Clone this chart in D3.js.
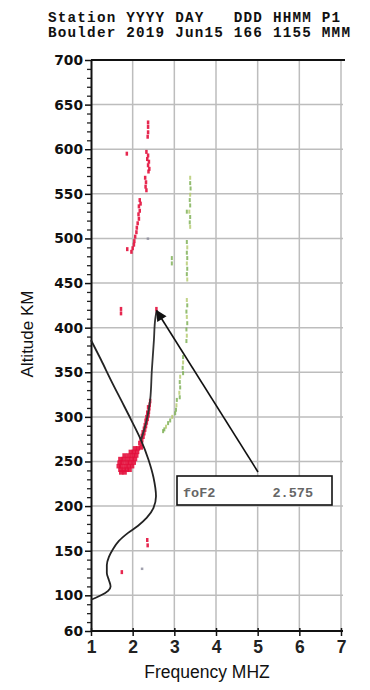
<!DOCTYPE html>
<html><head><meta charset="utf-8">
<script src="https://cdn.jsdelivr.net/npm/d3@7"></script>
<style>html,body{margin:0;padding:0;background:#fff;}svg{display:block;}</style>
</head><body>
<script>
// ---- data ----
const headerLines = ["Station YYYY DAY   DDD HHMM P1", "Boulder 2019 Jun15 166 1155 MMM"];
const xTicks = [1,2,3,4,5,6,7];
const yTicks = [60,100,150,200,250,300,350,400,450,500,550,600,650,700];
const xGrid = [2,3,4,5,6,7];
const yGrid = [100,150,200,250,300,350,400,450,500,550,600,650];

// electron density profile (black line)
const profileFreq = [1.00,1.10,1.24,1.41,1.47,1.43,1.38,1.38,1.43,1.53,1.67,1.89,2.13,2.34,2.50,2.56,2.50,2.38,2.20,1.96,1.72,1.48,1.24,1.00];
const profileAlt  = [95,97,100,105,110,117,125,134,143,152,161,170,178,187,198,211,232,252,274,297,319,341,364,386];
// branch up to foF2
const branchFreq = [2.20,2.34,2.42,2.46,2.51,2.54,2.575];
const branchAlt  = [274,297,319,352,386,409,419];

// red echoes (O trace)
const redFreq = [2.37,2.37,2.37,2.36, 1.86, 2.33,2.37,2.35,2.39,2.37,2.40,2.38, 2.30,2.32,2.31,2.33,
  2.17,2.19,2.15,2.17,2.14,2.15, 2.12,2.10,2.09,2.06,2.04,2.03,2.00,1.97, 1.87, 1.72,1.72, 2.57,2.58,
  2.42,2.41,2.40,2.39,2.38,2.36,2.34,2.32,2.30,2.28,2.26,2.23,2.21,2.19,
  2.37,2.35,2.33,2.31,2.29,2.27,2.24,2.22,2.19,2.16,
  2.12,2.05, 2.10,2.02,1.95, 2.08,2.00,1.90,1.80, 2.05,1.97,1.88,1.78,1.70,
  2.02,1.93,1.85,1.75,1.68, 1.98,1.90,1.82,1.72,1.66, 1.92,1.85,1.78,1.70, 1.80,1.72,
  2.35,2.36, 1.74];
const redAlt = [630,625,619,614, 595, 597,593,589,586,582,578,575, 568,563,558,554,
  543,539,536,531,527,522, 517,512,507,502,497,493,489,485, 488, 421,416, 421,417,
  318,314,310,306,302,298,294,290,286,282,278,274,270,266,
  311,305,300,296,291,287,283,279,275,271,
  265,265, 261,261,261, 257,257,257,257, 253,253,253,253,253,
  249,249,249,249,249, 245,245,245,245,245, 241,241,241,241, 238,238,
  162,156, 126];
// faint gray echoes
const grayFreq = [2.36, 2.22];
const grayAlt  = [500, 130];

// green echoes (X trace)
const greenFreq = [3.38,3.38,3.39,3.38,3.37,3.38,3.36,3.38,3.37,3.38, 3.30,
  3.30,3.31,3.30,3.31,3.30,3.31,3.30,3.31, 2.94,2.94,
  3.30,3.31,3.29,3.30,3.31,3.29,3.30,3.29, 3.21,3.21,3.20,3.21,
  3.14,3.13,3.14,3.12,3.13, 3.06,3.05,3.04,3.02, 2.95,2.90,2.85,2.80,2.76,2.73];
const greenAlt = [568,562,556,549,543,537,530,524,518,513, 530,
  496,490,484,478,472,466,460,454, 478,472,
  431,425,418,412,405,398,391,385, 367,361,355,349,
  345,339,333,327,322, 319,313,308,304, 300,296,293,289,286,284];

const foF2Label = "foF2";
const foF2Value = 2.575;
const foF2Alt = 419;

// ---- drawing ----
const W = 370, H = 690;
const svg = d3.select("body").append("svg").attr("width", W).attr("height", H);
svg.append("rect").attr("width", W).attr("height", H).attr("fill", "#fff");

const x = d3.scaleLinear().domain([1,7]).range([91,341]);
const y = d3.scaleLinear().domain([60,700]).range([631,60]);

// header
svg.selectAll("text.hdr").data(headerLines).enter().append("text")
  .attr("class","hdr")
  .attr("x", 48).attr("y", (d,i)=> 22 + i*15)
  .attr("font-family","'Liberation Mono', 'DejaVu Sans Mono', monospace")
  .attr("font-weight","bold").attr("font-size", 14.3)
  .attr("letter-spacing", 1.2)
  .attr("fill","#111")
  .style("white-space","pre")
  .text(d=>d);

// grid
svg.append("g").selectAll("line").data(xGrid).enter().append("line")
  .attr("x1", d=>x(d)).attr("x2", d=>x(d)).attr("y1", y(700)).attr("y2", y(60))
  .attr("stroke","#bdbdbd").attr("stroke-width",1.5);
svg.append("g").selectAll("line").data(yGrid).enter().append("line")
  .attr("x1", x(1)).attr("x2", x(7)+2).attr("y1", d=>y(d)).attr("y2", d=>y(d))
  .attr("stroke","#bdbdbd").attr("stroke-width",1.5);

// top border
svg.append("line").attr("x1", x(1)).attr("x2", x(7)+4).attr("y1", y(700)).attr("y2", y(700))
  .attr("stroke","#111").attr("stroke-width",2);

// y axis
const yMinor = d3.range(70, 700, 10).filter(v => !yTicks.includes(v));
const gyMinor = svg.append("g").attr("transform", `translate(${x(1)},0)`)
  .call(d3.axisLeft(y).tickValues(yMinor).tickFormat("").tickSize(4).tickSizeOuter(0));
gyMinor.select(".domain").remove();
gyMinor.selectAll("line").attr("stroke","#222").attr("stroke-width",1.3);
const gy = svg.append("g").attr("transform", `translate(${x(1)},0)`)
  .call(d3.axisLeft(y).tickValues(yTicks).tickFormat(d3.format("d")).tickSize(6).tickSizeOuter(0).tickPadding(2));
gy.select(".domain").attr("stroke","#111").attr("stroke-width",2);
gy.selectAll(".tick line").attr("stroke","#111").attr("stroke-width",1.5);
gy.selectAll("text").attr("font-family","'DejaVu Sans', Verdana, sans-serif")
  .attr("font-weight","bold").attr("font-size",13.8).attr("fill","#111");

// x axis
const gx = svg.append("g").attr("transform", `translate(0,${y(60)})`)
  .call(d3.axisBottom(x).tickValues(xTicks).tickFormat(d3.format("d")).tickSize(5).tickSizeOuter(0).tickPadding(5));
gx.select(".domain").attr("stroke","#111").attr("stroke-width",2).attr("d", `M${x(1)},0H${x(7)+2}`);
gx.selectAll(".tick line").attr("stroke","#111").attr("stroke-width",1.5).attr("y1",-3);
gx.selectAll("text").attr("font-family","'Liberation Sans', Arial, sans-serif")
  .attr("font-weight","bold").attr("font-size",17.5).attr("fill","#222");

// axis titles
svg.append("text").attr("transform","translate(33,334) rotate(-90)")
  .attr("text-anchor","middle").attr("font-family","'Liberation Sans', Arial, sans-serif")
  .attr("font-size",17).attr("fill","#111").text("Altitude KM");
svg.append("text").attr("x",207).attr("y",678)
  .attr("text-anchor","middle").attr("font-family","'Liberation Sans', Arial, sans-serif")
  .attr("font-size",17.5).attr("fill","#111").text("Frequency MHZ");

// echoes
const green = greenFreq.map((f,i)=>({f, a:greenAlt[i]}));
svg.append("g").selectAll("rect").data(green).enter().append("rect")
  .attr("x", d=>x(d.f)-1).attr("y", d=>y(d.a)-2).attr("width",2).attr("height",4)
  .attr("fill", (d,i)=> i%3===0 ? "#b3c96a" : "#78ad4e").attr("opacity",0.8);

const gray = grayFreq.map((f,i)=>({f, a:grayAlt[i]}));
svg.append("g").selectAll("rect").data(gray).enter().append("rect")
  .attr("x", d=>x(d.f)-1).attr("y", d=>y(d.a)-1).attr("width",2.5).attr("height",2.5)
  .attr("fill","#8a8a9a").attr("opacity",0.8);

const red = redFreq.map((f,i)=>({f, a:redAlt[i]}));
svg.append("g").selectAll("rect").data(red).enter().append("rect")
  .attr("x", d=> d.a < 270 && d.a > 230 ? x(d.f)-2 : x(d.f)-1.25)
  .attr("y", d=> y(d.a)-2)
  .attr("width", d=> d.a < 270 && d.a > 230 ? 4.5 : 2.5)
  .attr("height", d=> d.a < 320 && d.a > 230 ? 4.5 : 4)
  .attr("fill","#e3103c").attr("opacity",0.9);

// profile curves (altitude increases monotonically along each path)
const line = d3.line().x(d=>x(d[0])).y(d=>y(d[1])).curve(d3.curveMonotoneY);
svg.append("path").datum(profileFreq.map((f,i)=>[f, profileAlt[i]]))
  .attr("d", line).attr("fill","none").attr("stroke","#222").attr("stroke-width",1.8);
svg.append("path").datum(branchFreq.map((f,i)=>[f, branchAlt[i]]))
  .attr("d", line).attr("fill","none").attr("stroke","#333").attr("stroke-width",1.8);

// annotation
svg.append("defs").append("marker").attr("id","ah").attr("viewBox","0 0 10 10")
  .attr("refX",9).attr("refY",5).attr("markerWidth",14).attr("markerHeight",11)
  .attr("markerUnits","userSpaceOnUse").attr("orient","auto")
  .append("path").attr("d","M0,0L10,5L0,10Z").attr("fill","#111");
const boxX = 177, boxY = 476, boxW = 155, boxH = 29;
svg.append("line").attr("x1", 258).attr("y1", 472)
  .attr("x2", x(foF2Value)).attr("y2", y(foF2Alt))
  .attr("stroke","#111").attr("stroke-width",1.6).attr("marker-end","url(#ah)");
svg.append("rect").attr("x",boxX).attr("y",boxY).attr("width",boxW).attr("height",boxH)
  .attr("fill","#fff").attr("stroke","#111").attr("stroke-width",1.6);
svg.append("text").attr("x",boxX+6).attr("y",boxY+21)
  .attr("font-family","'Liberation Mono', monospace").attr("font-size",13.5).attr("font-weight","bold")
  .attr("fill","#666").text(foF2Label);
svg.append("text").attr("x",boxX+boxW-19).attr("y",boxY+21).attr("text-anchor","end")
  .attr("font-family","'Liberation Mono', monospace").attr("font-size",13.5).attr("font-weight","bold")
  .attr("fill","#666").text(foF2Value.toFixed(3));
</script>
</body></html>
